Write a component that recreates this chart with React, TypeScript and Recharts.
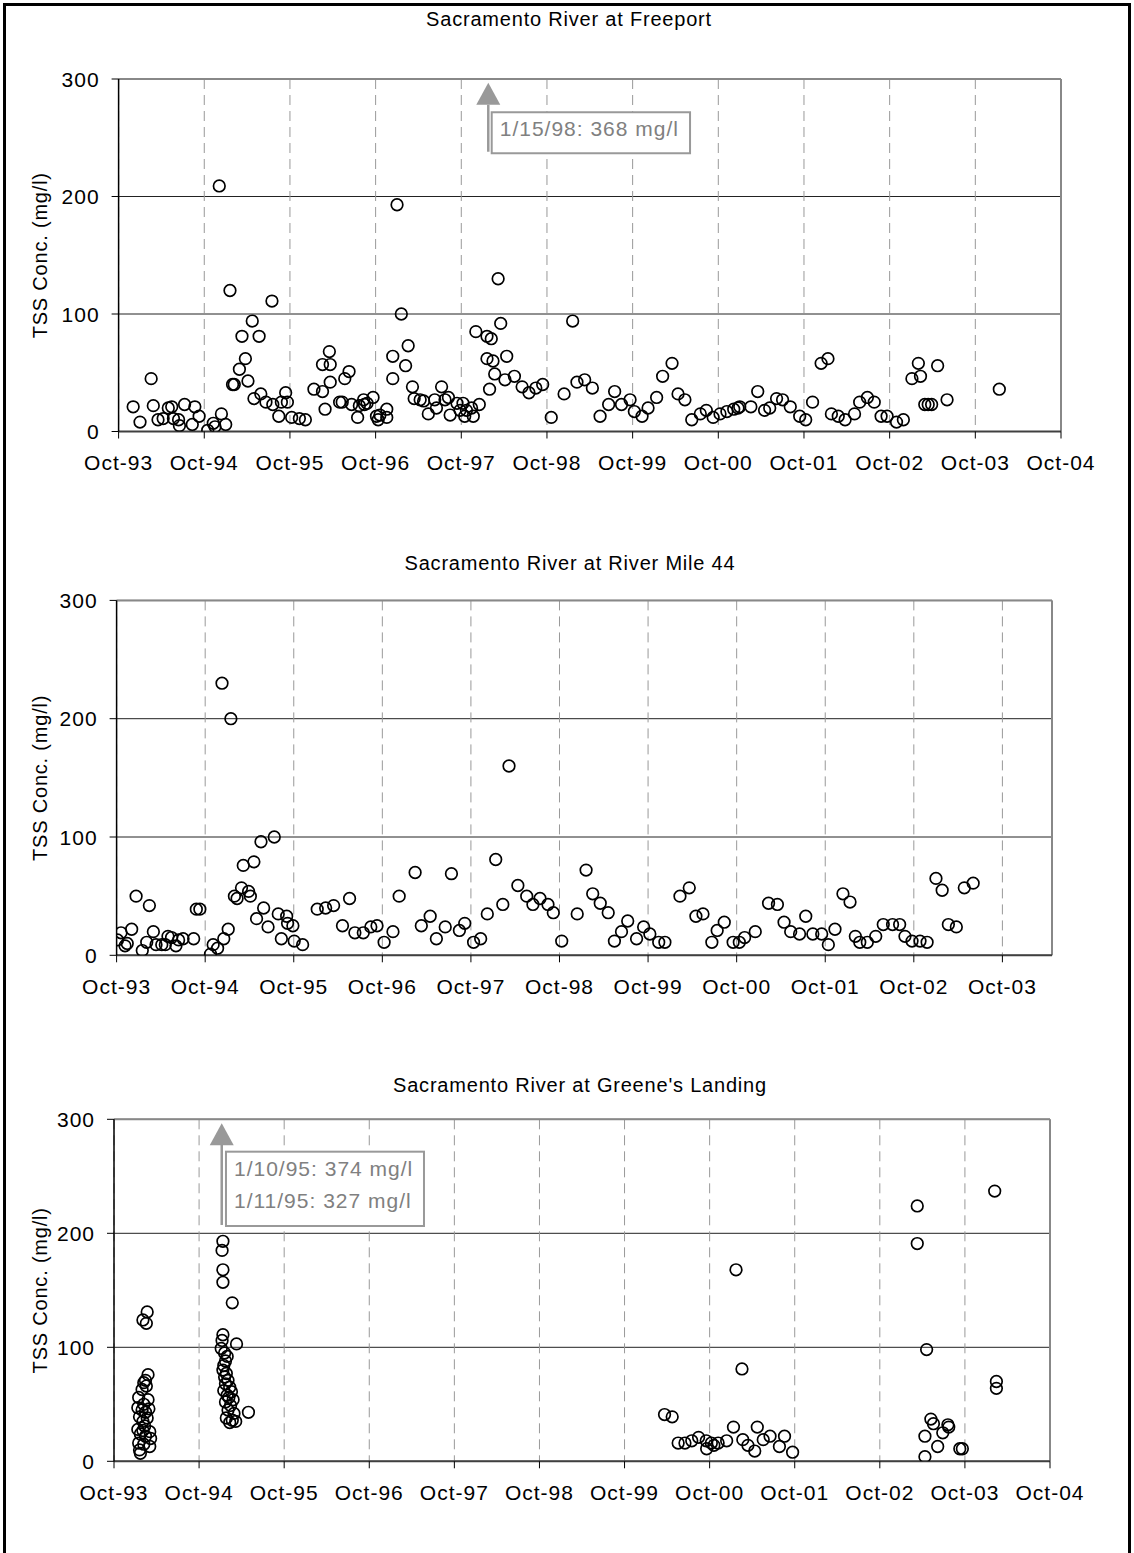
import React from 'react';
import {
  ScatterChart,
  Scatter,
  XAxis,
  YAxis,
  CartesianGrid,
  ReferenceArea,
  ReferenceLine,
  ReferenceDot,
} from 'recharts';

const FONT = '"Liberation Sans", Arial, Helvetica, sans-serif';

// ---------- axis ticks ----------
const xTickValues = [1993.75, 1994.75, 1995.75, 1996.75, 1997.75, 1998.75, 1999.75, 2000.75, 2001.75, 2002.75, 2003.75, 2004.75];
const xTickLabels = ['Oct-93', 'Oct-94', 'Oct-95', 'Oct-96', 'Oct-97', 'Oct-98', 'Oct-99', 'Oct-00', 'Oct-01', 'Oct-02', 'Oct-03', 'Oct-04'];
const yTickValues = [0, 100, 200, 300];

const panelTitles = [
  'Sacramento River at Freeport',
  'Sacramento River at River Mile 44',
  "Sacramento River at Greene's Landing",
];
const yAxisTitle = 'TSS Conc. (mg/l)';

// ---------- Freeport (decimal year, mg/l) ----------
const freeportYear = [
  1993.92, 1994.0, 1994.13, 1994.155, 1994.21, 1994.27, 1994.33, 1994.37, 1994.39, 1994.45,
  1994.46, 1994.52, 1994.61, 1994.64, 1994.69, 1994.79, 1994.855, 1994.875, 1994.925, 1994.95,
  1995.0, 1995.05, 1995.08, 1995.1, 1995.16, 1995.19, 1995.23, 1995.26, 1995.31, 1995.33,
  1995.39, 1995.41, 1995.47, 1995.54, 1995.55, 1995.62, 1995.65, 1995.7, 1995.72, 1995.77,
  1995.86, 1995.93, 1996.03, 1996.13, 1996.13, 1996.16, 1996.21, 1996.22, 1996.22, 1996.33,
  1996.36, 1996.39, 1996.44, 1996.47, 1996.54, 1996.56, 1996.61, 1996.62, 1996.65, 1996.72,
  1996.76, 1996.78, 1996.8, 1996.88, 1996.88, 1996.95, 1996.95, 1997.0, 1997.05, 1997.1,
  1997.13, 1997.18, 1997.2, 1997.27, 1997.31, 1997.365, 1997.44, 1997.46, 1997.52, 1997.56,
  1997.6, 1997.62, 1997.7, 1997.735, 1997.77, 1997.79, 1997.81, 1997.87, 1997.89, 1997.92,
  1997.96, 1998.05, 1998.05, 1998.08, 1998.1, 1998.12, 1998.14, 1998.18, 1998.21, 1998.26,
  1998.28, 1998.37, 1998.46, 1998.54, 1998.62, 1998.7, 1998.8, 1998.95, 1999.05, 1999.1,
  1999.19, 1999.28, 1999.37, 1999.47, 1999.54, 1999.62, 1999.72, 1999.77, 1999.86, 1999.93,
  2000.03, 2000.1, 2000.21, 2000.28, 2000.36, 2000.44, 2000.54, 2000.61, 2000.69, 2000.77,
  2000.85, 2000.93, 2000.98, 2001.0, 2001.13, 2001.21, 2001.29, 2001.35, 2001.43, 2001.5,
  2001.59, 2001.7, 2001.77, 2001.85, 2001.95, 2002.03, 2002.07, 2002.15, 2002.23, 2002.34,
  2002.4, 2002.49, 2002.57, 2002.65, 2002.72, 2002.83, 2002.91, 2003.01, 2003.085, 2003.11,
  2003.16, 2003.2, 2003.24, 2003.31, 2003.42, 2004.03,
];
const freeportTSS = [
  21, 8, 45, 22, 10, 11, 20, 21, 11, 10,
  5, 23, 6, 21, 13, 1, 7, 4, 209, 15,
  6, 120, 40, 40, 53, 81, 62, 43, 94, 28,
  81, 32, 25, 111, 23, 13, 25, 33, 25, 12,
  11, 10, 36, 34, 57, 19, 68, 57, 42, 25,
  25, 45, 51, 23, 12, 22, 27, 23, 24, 29,
  13, 10, 14, 12, 19, 64, 45, 193, 100, 56,
  73, 38, 28, 27, 26, 15, 27, 20, 38, 27,
  29, 14, 24, 18, 24, 13, 18, 20, 13, 85,
  23, 81, 62, 36, 79, 60, 49, 130, 92, 44,
  64, 47, 38, 33, 37, 40, 12, 32, 94, 42,
  44, 37, 13, 23, 34, 23, 27, 17, 13, 20,
  29, 47, 58, 32, 27, 10, 15, 18, 12, 15,
  17, 19, 20, 21, 21, 34, 18, 20, 28, 27,
  21, 13, 10, 25, 58, 62, 15, 13, 10, 15,
  25, 29, 25, 13, 13, 8, 10, 45, 58, 47,
  23, 23, 23, 56, 27, 36,
];

// ---------- River Mile 44 ----------
const mile44Year = [
  1993.76, 1993.8, 1993.845, 1993.87, 1993.92, 1993.97, 1994.04, 1994.09, 1994.12, 1994.165,
  1994.195, 1994.26, 1994.3, 1994.33, 1994.37, 1994.42, 1994.45, 1994.5, 1994.62, 1994.65,
  1994.69, 1994.81, 1994.84, 1994.89, 1994.94, 1994.96, 1995.01, 1995.04, 1995.08, 1995.11,
  1995.16, 1995.18, 1995.24, 1995.26, 1995.3, 1995.33, 1995.38, 1995.41, 1995.46, 1995.53,
  1995.575, 1995.61, 1995.67, 1995.68, 1995.74, 1995.755, 1995.85, 1996.015, 1996.11, 1996.2,
  1996.3, 1996.38, 1996.44, 1996.535, 1996.62, 1996.69, 1996.77, 1996.87, 1996.94, 1997.12,
  1997.19, 1997.29, 1997.36, 1997.46, 1997.53, 1997.62, 1997.68, 1997.78, 1997.86, 1997.935,
  1998.03, 1998.11, 1998.18, 1998.28, 1998.38, 1998.45, 1998.53, 1998.62, 1998.68, 1998.775,
  1998.95, 1999.05, 1999.125, 1999.21, 1999.3, 1999.37, 1999.45, 1999.52, 1999.62, 1999.7,
  1999.77, 1999.87, 1999.94, 2000.11, 2000.215, 2000.29, 2000.37, 2000.47, 2000.53, 2000.61,
  2000.71, 2000.78, 2000.84, 2000.96, 2001.11, 2001.21, 2001.285, 2001.36, 2001.46, 2001.53,
  2001.61, 2001.71, 2001.785, 2001.86, 2001.95, 2002.03, 2002.09, 2002.14, 2002.225, 2002.32,
  2002.405, 2002.51, 2002.59, 2002.65, 2002.73, 2002.82, 2002.9, 2003.0, 2003.07, 2003.14,
  2003.23, 2003.32, 2003.42,
];
const mile44TSS = [
  13, 19, 8, 10, 22, 50, 4, 11, 42, 20,
  9, 9, 9, 16, 15, 8, 13, 14, 14, 39,
  39, 1, 9, 6, 230, 14, 22, 200, 50, 48,
  57, 76, 54, 50, 79, 31, 96, 40, 24, 100,
  35, 14, 33, 27, 25, 12, 9, 39, 40, 42,
  25, 48, 19, 19, 24, 25, 11, 20, 50, 70,
  25, 33, 14, 24, 69, 21, 27, 11, 14, 35,
  81, 43, 160, 59, 50, 43, 48, 43, 36, 12,
  35, 72, 52, 44, 36, 12, 20, 29, 14, 24,
  18, 11, 11, 50, 57, 33, 35, 11, 21, 28,
  11, 11, 15, 20, 44, 43, 28, 20, 18, 33,
  18, 18, 9, 22, 52, 45, 16, 11, 11, 16,
  26, 26, 26, 16, 12, 12, 11, 65, 55, 26,
  24, 57, 61,
];

// ---------- Greene's Landing ----------
const greeneYear = [
  1994.14, 1994.09, 1994.13, 1994.15, 1994.12, 1994.1, 1994.13, 1994.08, 1994.04, 1994.15,
  1994.1, 1994.03, 1994.16, 1994.08, 1994.12, 1994.05, 1994.14, 1994.09, 1994.11, 1994.03,
  1994.09, 1994.17, 1994.06, 1994.12, 1994.18, 1994.04, 1994.1, 1994.17, 1994.05, 1994.06,
  1995.03, 1995.02, 1995.03, 1995.03, 1995.14, 1995.03, 1995.02, 1995.19, 1995.01, 1995.05,
  1995.08, 1995.06, 1995.04, 1995.03, 1995.07, 1995.05, 1995.09, 1995.06, 1995.11, 1995.04,
  1995.13, 1995.08, 1995.1, 1995.15, 1995.06, 1995.12, 1995.33, 1995.09, 1995.16, 1995.07,
  1995.14, 1995.18, 1995.11,
  2000.22, 2000.31, 2000.38, 2000.46, 2000.54, 2000.62, 2000.71, 2000.715, 2000.77, 2000.8,
  2000.85, 2000.95, 2001.03, 2001.06, 2001.13, 2001.14, 2001.2, 2001.28, 2001.31, 2001.38,
  2001.46, 2001.57, 2001.63, 2001.725,
  2003.19, 2003.19, 2003.3, 2003.35, 2003.38, 2003.28, 2003.28, 2003.43, 2003.49, 2003.55,
  2003.56, 2003.69, 2003.72, 2004.1, 2004.12, 2004.12,
];
const greeneTSS = [
  131, 124, 121, 76, 71, 69, 66, 63, 56, 54,
  50, 47, 46, 45, 43, 39, 38, 35, 31, 28,
  27, 26, 24, 22, 20, 16, 15, 13, 10, 7,
  193, 185, 168, 157, 139, 111, 106, 103, 99, 95,
  92, 88, 84, 80, 77, 74, 71, 68, 65, 62,
  61, 58, 56, 54, 52, 49, 43, 45, 42, 38,
  36, 35, 34,
  41, 39, 16, 16, 18, 21, 18, 11, 16, 14,
  16, 18, 30, 168, 81, 19, 14, 9, 30, 19,
  22, 13, 22, 8,
  224, 191, 98, 37, 33, 22, 4, 13, 25, 32,
  30, 11, 11, 237, 70, 64,
];

// ---------- off-scale annotations ----------
const freeportNote = ['1/15/98: 368 mg/l'];
const greeneNote = ['1/10/95: 374 mg/l', '1/11/95: 327 mg/l'];

const toPoints = (xs: number[], ys: number[]) => xs.map((x, i) => ({ x, y: ys[i] }));

const OpenCircle = (p: any) => {
  if (p.cx == null || p.cy == null) return null;
  return <circle cx={p.cx} cy={p.cy} r={5.8} fill="none" stroke="#000" strokeWidth={1.7} />;
};

const XTick = (p: any) => {
  const v = p.payload ? p.payload.value : 0;
  const i = xTickValues.findIndex((t) => Math.abs(t - v) < 1e-6);
  return (
    <text x={p.x} y={p.y} dy="0.71em" textAnchor="middle" fontFamily={FONT} fontSize={21} letterSpacing={1} fill="#000">
      {i >= 0 ? xTickLabels[i] : ''}
    </text>
  );
};

const YTick = (p: any) => (
  <text x={p.x} y={p.y} dy="0.36em" textAnchor="end" fontFamily={FONT} fontSize={21} letterSpacing={1} fill="#000">
    {p.payload ? p.payload.value : ''}
  </text>
);

const YLabel = (p: any) => {
  const vb = p.viewBox || { y: 0, height: 0 };
  const cy = vb.y + vb.height / 2;
  return (
    <text
      x={40}
      y={cy}
      transform={`rotate(-90, 40, ${cy})`}
      textAnchor="middle"
      dominantBaseline="central"
      fontFamily={FONT}
      fontSize={20}
      letterSpacing={0.8}
      fill="#000"
    >
      {yAxisTitle}
    </text>
  );
};

type Note = {
  arrowX: number;
  tipY: number;
  headY: number;
  tailY: number;
  boxX1: number;
  boxX2: number;
  boxY1: number;
  boxY2: number;
  lines: string[];
};

type PanelProps = {
  top: number;
  height: number;
  margin: { top: number; right: number; bottom: number; left: number };
  xMax: number;
  tickCount: number;
  points: { x: number; y: number }[];
  title: string;
  titleY: number;
  titleX: number;
  note?: Note;
};

const Panel = ({ top, height, margin, xMax, tickCount, points, title, titleY, titleX, note }: PanelProps) => {
  const ticks = xTickValues.slice(0, tickCount);
  return (
    <>
      <div
        style={{
          position: 'absolute',
          top: titleY - 12,
          left: titleX - 400,
          width: 800,
          textAlign: 'center',
          fontFamily: FONT,
          fontSize: 20,
          letterSpacing: 0.8,
          lineHeight: '24px',
          color: '#000',
        }}
      >
        {title}
      </div>
      <div style={{ position: 'absolute', top, left: 0 }}>
        <ScatterChart width={1134} height={height} margin={margin} style={{ fontFamily: FONT }}>
          <CartesianGrid horizontal={true} vertical={false} stroke="#222" strokeWidth={1} />
          <CartesianGrid horizontal={false} vertical={true} stroke="#999" strokeDasharray="10 6" strokeWidth={1} />
          <XAxis
            type="number"
            dataKey="x"
            domain={[1993.75, xMax]}
            ticks={ticks}
            interval={0}
            allowDataOverflow
            tick={<XTick />}
            tickSize={7}
            tickMargin={17}
            tickLine={{ stroke: '#000', strokeWidth: 1 }}
            axisLine={{ stroke: '#404040', strokeWidth: 2 }}
            height={50}
          />
          <YAxis
            type="number"
            dataKey="y"
            domain={[0, 300]}
            ticks={yTickValues}
            interval={0}
            allowDataOverflow
            tick={<YTick />}
            tickSize={7}
            tickMargin={12}
            tickLine={{ stroke: '#000', strokeWidth: 1 }}
            axisLine={{ stroke: '#000', strokeWidth: 1.5 }}
            width={100}
            label={<YLabel />}
          />
          <ReferenceLine y={300} stroke="#888" strokeWidth={2} />
          <ReferenceLine x={xMax} stroke="#888" strokeWidth={2} />
          {note && (
            <ReferenceArea
              x1={note.boxX1}
              x2={note.boxX2}
              y1={note.boxY1}
              y2={note.boxY2}
              shape={(p: any) => (
                <g>
                  <rect x={p.x} y={p.y} width={p.width} height={p.height} fill="#fff" stroke="#999" strokeWidth={2} />
                  {note.lines.map((t, i) => (
                    <text
                      key={i}
                      x={p.x + 8}
                      y={p.y + 24 + i * 32}
                      fontFamily={FONT}
                      fontSize={21}
                      letterSpacing={1}
                      fill="#808080"
                    >
                      {t}
                    </text>
                  ))}
                </g>
              )}
            />
          )}
          {note && (
            <ReferenceLine
              segment={[
                { x: note.arrowX, y: note.tailY },
                { x: note.arrowX, y: note.headY },
              ]}
              stroke="#999"
              strokeWidth={2.5}
            />
          )}
          {note && (
            <ReferenceDot
              x={note.arrowX}
              y={note.tipY}
              shape={(p: any) => (
                <polygon
                  points={`${p.cx},${p.cy} ${p.cx - 12},${p.cy + 22} ${p.cx + 12},${p.cy + 22}`}
                  fill="#999"
                  stroke="none"
                />
              )}
            />
          )}
          <Scatter data={points} shape={<OpenCircle />} isAnimationActive={false} />
        </ScatterChart>
      </div>
    </>
  );
};

export default function App() {
  return (
    <div
      style={{
        position: 'absolute',
        top: 0,
        left: 0,
        width: 1134,
        height: 1553,
        overflow: 'hidden',
        background: '#fff',
      }}
    >
      <div
        style={{
          position: 'absolute',
          left: 3,
          top: 3,
          width: 1128,
          height: 1620,
          border: '3px solid #000',
          boxSizing: 'border-box',
        }}
      />
      <Panel
        top={0}
        height={500}
        margin={{ top: 79, right: 73, bottom: 18.5, left: 18.6 }}
        xMax={2004.75}
        tickCount={12}
        points={toPoints(freeportYear, freeportTSS)}
        title={panelTitles[0]}
        titleY={19}
        titleX={569}
        note={{
          arrowX: 1998.065,
          tipY: 296.9,
          headY: 278,
          tailY: 238.1,
          boxX1: 1998.105,
          boxX2: 2000.42,
          boxY1: 236.8,
          boxY2: 271.7,
          lines: freeportNote,
        }}
      />
      <Panel
        top={520}
        height={500}
        margin={{ top: 80.4, right: 82, bottom: 14.7, left: 16.6 }}
        xMax={2004.31}
        tickCount={11}
        points={toPoints(mile44Year, mile44TSS)}
        title={panelTitles[1]}
        titleY={563}
        titleX={570}
      />
      <Panel
        top={1040}
        height={500}
        margin={{ top: 79.3, right: 84, bottom: 28.7, left: 14 }}
        xMax={2004.75}
        tickCount={12}
        points={toPoints(greeneYear, greeneTSS)}
        title={panelTitles[2]}
        titleY={1085}
        titleX={580}
        note={{
          arrowX: 1995.016,
          tipY: 296.5,
          headY: 277.5,
          tailY: 207.3,
          boxX1: 1995.066,
          boxX2: 1997.393,
          boxY1: 206.4,
          boxY2: 271.6,
          lines: greeneNote,
        }}
      />
    </div>
  );
}
